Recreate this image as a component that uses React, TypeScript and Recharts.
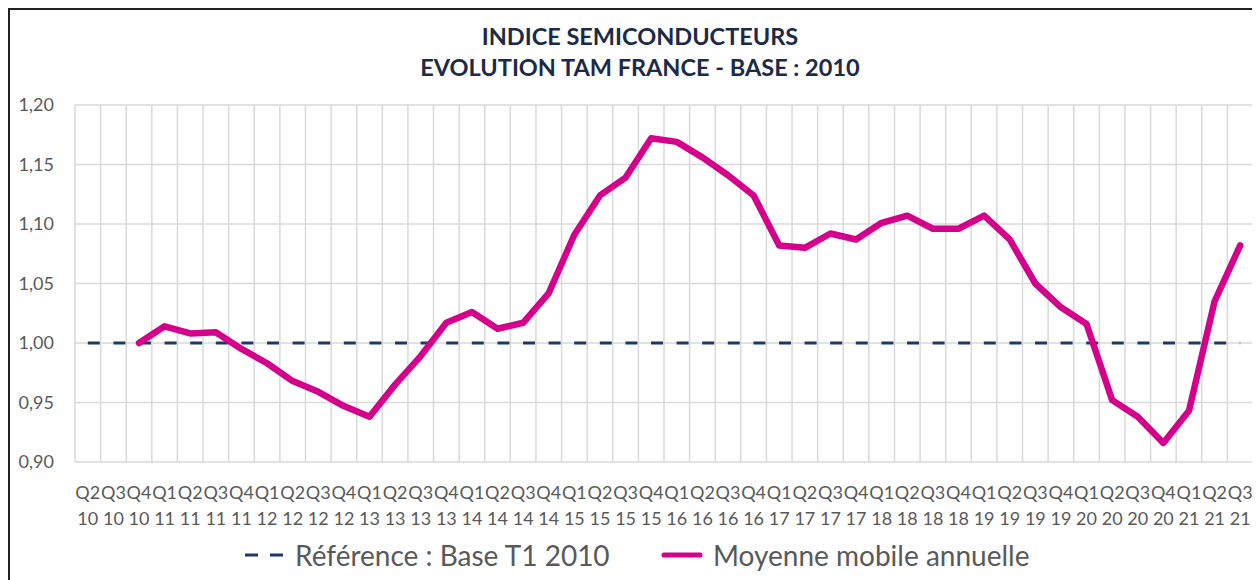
import { CartesianGrid, Line, LineChart, XAxis, YAxis } from "recharts";

const QUARTERS = [
  "Q2 10", "Q3 10", "Q4 10",
  "Q1 11", "Q2 11", "Q3 11", "Q4 11",
  "Q1 12", "Q2 12", "Q3 12", "Q4 12",
  "Q1 13", "Q2 13", "Q3 13", "Q4 13",
  "Q1 14", "Q2 14", "Q3 14", "Q4 14",
  "Q1 15", "Q2 15", "Q3 15", "Q4 15",
  "Q1 16", "Q2 16", "Q3 16", "Q4 16",
  "Q1 17", "Q2 17", "Q3 17", "Q4 17",
  "Q1 18", "Q2 18", "Q3 18", "Q4 18",
  "Q1 19", "Q2 19", "Q3 19", "Q4 19",
  "Q1 20", "Q2 20", "Q3 20", "Q4 20",
  "Q1 21", "Q2 21", "Q3 21",
];

// moyenne mobile annuelle (TAM), indice base 2010
const MOYENNE: (number | null)[] = [
  null, null, 1.0,
  1.014, 1.008, 1.009, 0.995,
  0.983, 0.968, 0.959, 0.947,
  0.938, 0.965, 0.989, 1.017,
  1.026, 1.012, 1.017, 1.042,
  1.091, 1.124, 1.139, 1.172,
  1.169, 1.156, 1.141, 1.124,
  1.082, 1.08, 1.092, 1.087,
  1.101, 1.107, 1.096, 1.096,
  1.107, 1.087, 1.05, 1.03,
  1.016, 0.952, 0.938, 0.916,
  0.943, 1.035, 1.082,
];

// référence : base T1 2010
const REFERENCE = [
  1, 1, 1,
  1, 1, 1, 1,
  1, 1, 1, 1,
  1, 1, 1, 1,
  1, 1, 1, 1,
  1, 1, 1, 1,
  1, 1, 1, 1,
  1, 1, 1, 1,
  1, 1, 1, 1,
  1, 1, 1, 1,
  1, 1, 1, 1,
  1, 1, 1,
];

const Y_TICKS = [0.9, 0.95, 1.0, 1.05, 1.1, 1.15, 1.2];

const PINK = "#d4008c";
const NAVY = "#1f3864";
const GREY_TXT = "#595959";
const FONT = "Lato, 'Open Sans', sans-serif";

const data = QUARTERS.map((q, i) => ({
  q,
  moyenne: MOYENNE[i],
  reference: REFERENCE[i],
}));

function QuarterTick(props: any) {
  const { x, y, payload } = props;
  const [quarter, year] = String(payload.value).split(" ");
  return (
    <text x={x} y={y} textAnchor="middle" fill={GREY_TXT} fontSize={18} fontFamily={FONT}>
      <tspan x={x} dy={37}>{quarter}</tspan>
      <tspan x={x} dy={26}>{year}</tspan>
    </text>
  );
}

// lignes verticales entre les catégories (comme Excel)
function bandEdges(props: any) {
  const { offset } = props;
  const n = QUARTERS.length;
  const step = offset.width / n;
  return Array.from({ length: n + 1 }, (_, i) => offset.left + i * step);
}

export default function App() {
  return (
    <div
      style={{
        position: "relative",
        width: 1252,
        height: 572,
        borderTop: "2px solid #222",
        borderLeft: "2px solid #222",
        background: "#fff",
        fontFamily: FONT,
        overflow: "hidden",
      }}
    >
      <div
        style={{
          position: "absolute",
          left: 0,
          top: 11,
          width: 1260,
          textAlign: "center",
          color: "#1c2a48",
          fontWeight: 700,
          fontSize: 23.5,
          lineHeight: "31px",
        }}
      >
        <div>INDICE SEMICONDUCTEURS</div>
        <div>EVOLUTION TAM FRANCE - BASE : 2010</div>
      </div>

      <LineChart
        width={1250}
        height={570}
        data={data}
        margin={{ top: 95, right: 7, bottom: 48, left: 10 }}
      >
        <CartesianGrid
          stroke="#d9d9d9"
          strokeWidth={1.5}
          verticalCoordinatesGenerator={bandEdges}
        />
        <XAxis
          dataKey="q"
          scale="band"
          interval={0}
          axisLine={false}
          tickLine={false}
          tickSize={0}
          tickMargin={0}
          height={70}
          tick={<QuarterTick />}
        />
        <YAxis
          domain={[0.9, 1.2]}
          ticks={Y_TICKS}
          width={55}
          axisLine={false}
          tickLine={false}
          tickSize={0}
          tickMargin={21}
          tick={{ fill: GREY_TXT, fontSize: 18, fontFamily: FONT }}
          tickFormatter={(v: number) => v.toFixed(2).replace(".", ",")}
        />
        <Line
          dataKey="reference"
          stroke={NAVY}
          strokeWidth={3.2}
          strokeDasharray="12 13.6"
          dot={false}
          activeDot={false}
          isAnimationActive={false}
        />
        <Line
          dataKey="moyenne"
          stroke={PINK}
          strokeWidth={6.5}
          strokeLinejoin="round"
          strokeLinecap="round"
          dot={false}
          activeDot={false}
          connectNulls={false}
          isAnimationActive={false}
        />
      </LineChart>

      {/* légende */}
      <div style={{ position: "absolute", top: 528, left: 235, display: "flex", alignItems: "center", color: GREY_TXT, fontSize: 28 }}>
        <svg width={40} height={8} style={{ marginRight: 10 }}>
          <line x1={0} y1={4} x2={40} y2={4} stroke={NAVY} strokeWidth={3.2} strokeDasharray="13 12" />
        </svg>
        <span>Référence : Base T1 2010</span>
      </div>
      <div style={{ position: "absolute", top: 528, left: 651, display: "flex", alignItems: "center", color: GREY_TXT, fontSize: 28 }}>
        <svg width={42} height={8} style={{ marginRight: 10 }}>
          <line x1={3} y1={4} x2={39} y2={4} stroke={PINK} strokeWidth={5} strokeLinecap="round" />
        </svg>
        <span>Moyenne mobile annuelle</span>
      </div>
    </div>
  );
}
